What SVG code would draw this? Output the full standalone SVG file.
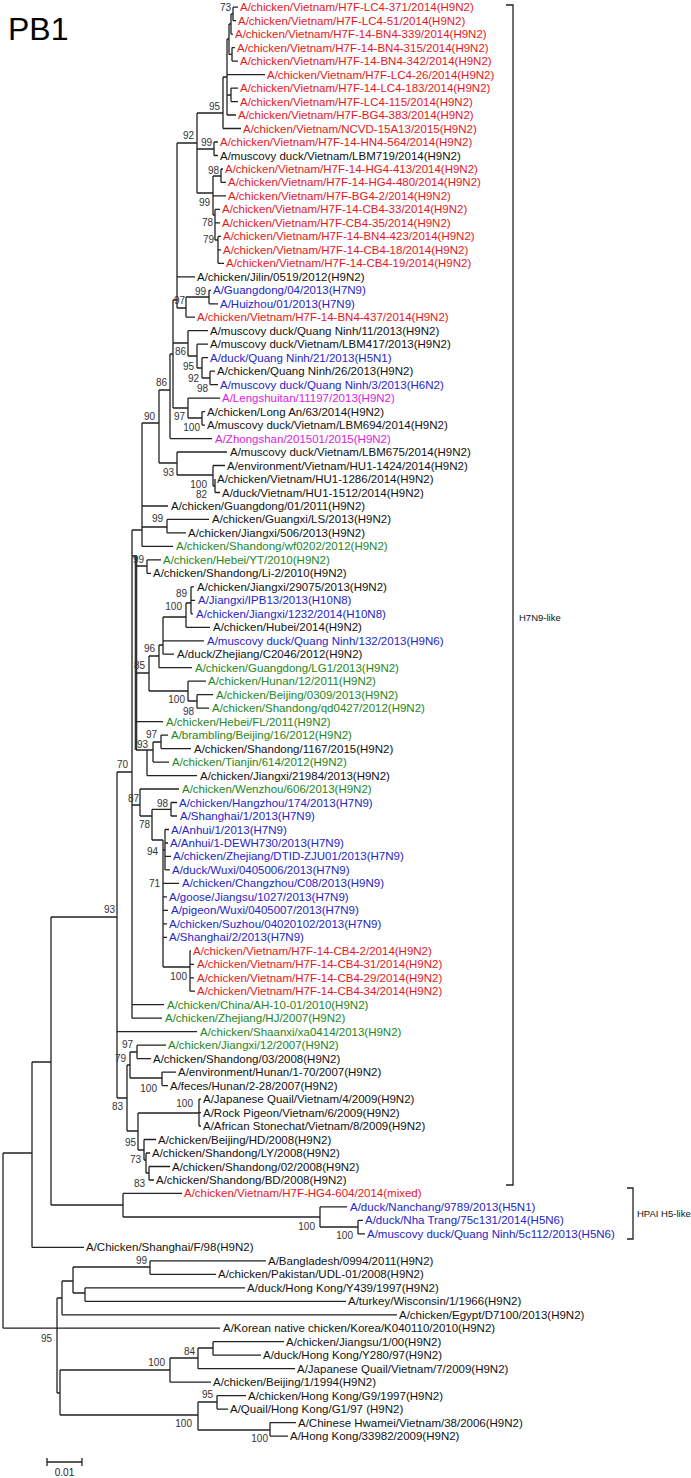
<svg xmlns="http://www.w3.org/2000/svg" width="691" height="1478" viewBox="0 0 691 1478">
<style>
.t{font-family:"Liberation Sans",Arial,sans-serif;font-size:11.5px}
.r{fill:#e8161c}.b{fill:#2424c8}.g{fill:#1e861e}.m{fill:#e020e0}.k{fill:#111}
.bs{font-family:"Liberation Sans",Arial,sans-serif;font-size:10px;fill:#333;text-anchor:end}
.ln{fill:none;stroke:#222;stroke-width:1.3}
.th{fill:none;stroke:#333;stroke-width:2.6}
.lab{font-family:"Liberation Sans",Arial,sans-serif;font-size:9.5px;fill:#111}
</style>
<rect width="691" height="1478" fill="#fff"/>
<text x="8" y="40" font-family="Liberation Sans,Arial,sans-serif" font-size="32" fill="#000">PB1</text>
<g id="connectors">
<path class="ln" d="M233 7.2V20.7M233 7.2H238M233 20.7H236M231 14V34.2M231 14H233M231 34.2H233M232 47.6V61.1M232 47.6H235M232 61.1H238M229 24V54.4M229 24H231M229 54.4H232M231 88.1V101.6M231 88.1H238M231 101.6H238M227 39V115M227 39H229M227 74.6H265M227 95H231M227 115H236M223 77V128.5M223 77H227M223 128.5H241M214 142V155.5M214 142H218M214 155.5H218M221 169V182.4M221 169H223M221 182.4H226M218 236.4V263.3M218 236.4H221M218 249.8H221M218 263.3H224M215 209.4V240M215 209.4H220M215 222.9H220M215 240H218M213 176V215M213 176H221M213 195.9H226M213 215H215M197 113V193M197 113H223M197 149H214M197 193H213"/>
<path class="ln" d="M177 143V308M177 143H197M177 276.8H195M177 308H186M209 290.3V303.8M209 290.3H211M209 303.8H218M186 297V317.2M186 297H209M186 317.2H195M210 371.2V384.6M210 371.2H215M210 384.6H218M202 357.7V378M202 357.7H208M202 378H210M197 344.2V368M197 344.2H208M197 368H202M188 330.7V356M188 330.7H208M188 356H197M202 411.6V425.1M202 411.6H205M202 425.1H205M188 398.1V418M188 398.1H220M188 418H202M173 300V408M173 300H177M173 343H188M173 408H188M170 354V438.6M170 354H173M170 438.6H212M159 390V463M159 390H170M159 463H177M177 452V475M177 452H227M177 475H213M213 465.5V486M213 465.5H225M213 486H215M215 479V492.5M215 492.5H220"/>
<path class="ln" d="M142 423V546.4M142 423H159M142 506H168M142 527H167M142 546.4H173M167 519.4V532.9M167 519.4H209M167 532.9H186M132 530V1018.2M132 530H142M132 556H136M132 805H140M132 1004.7H164M132 1018.2H162"/>
<path class="th" d="M136 556V750"/>
<path class="ln" d="M147 559.9V573.4M147 559.9H161M147 573.4H151M136 566H147M149 656V691M136 673H149M149 656H159M149 691H188M159 645V667.7M159 645H163M159 667.7H192M163 617V654.2M163 617H186M163 640.8H204M163 654.2H174M186 603V627.3M186 603H191M186 627.3H210M191 586.8V613.8M191 586.8H194M191 600.3H195M191 613.8H193M188 681.2V701M188 681.2H206M188 701H197M197 694.7V708.2M197 694.7H213M197 708.2H209M136 721.6H163M147 750V775.6M136 750H153M147 775.6H197M153 742V762.1M153 742H161M153 762.1H169M161 735.1V748.6M161 735.1H168M161 748.6H191"/>
<path class="ln" d="M140 789V816M140 789H179M140 816H152M152 809.3V840M152 809.3H171M152 840H163M171 802.5V816M171 802.5H177M171 816H177M163 840V967M163 850H165M163 883.4H179M163 896.9H167M163 910.4H168M163 923.8H167M163 937.3H167M163 967H190M165 829.5V869.9M165 829.5H169M165 843H168M165 856.4H171M165 869.9H170M190 950.8V991.2M190 950.8H191M190 964.3H194M190 977.8H194M190 991.2H195"/>
<path class="ln" d="M117 772V1098M117 772H132M117 1031.7H197M117 1098H127M127 1065V1131M127 1065H130M127 1131H138M130 1052V1078M130 1052H137M130 1078H162M137 1045.2V1058.6M137 1045.2H166M137 1058.6H151M162 1072.1V1085.6M162 1072.1H176M162 1085.6H168M138 1113V1150M138 1113H199M138 1150H144M199 1099.1V1126M199 1099.1H201M199 1112.6H201M199 1126H201M144 1139.5V1160M144 1139.5H156M144 1160H146M146 1153V1173M146 1153H150M146 1173H149M149 1166.5V1180M149 1166.5H170M149 1180H154"/>
<path class="ln" d="M51 917V1205M51 917H117M51 1205H123M123 1193.4V1217M123 1193.4H182M123 1217H320M320 1206.9V1227M320 1206.9H347M320 1227H358M358 1220.4V1233.9M358 1220.4H363M358 1233.9H365M32 1062V1247.4M32 1062H51M32 1247.4H84M3 1153V1328.2M3 1153H32M3 1328.2H220"/>
<path class="ln" d="M57 1298V1393M57 1298H62M57 1393H60M62 1281V1314.8M62 1281H73M62 1314.8H397M73 1267V1293M73 1267H150M73 1293H85M150 1260.8V1274.3M150 1260.8H266M150 1274.3H216M85 1287.8V1301.3M85 1287.8H245M85 1301.3H346M60 1370V1415M60 1370H170M60 1415H198M170 1358V1382.2M170 1358H198M170 1382.2H211M198 1348V1368.7M198 1348H213M198 1368.7H295M213 1341.7V1355.2M213 1341.7H284M213 1355.2H261M198 1402V1430M198 1402H217M198 1430H270M217 1395.6V1409.1M217 1395.6H246M217 1409.1H228M270 1422.6V1436.1M270 1422.6H296M270 1436.1H288"/>
</g>
<g id="bootstrap">
<text class="bs" x="231" y="11">73</text><text class="bs" x="220" y="110">95</text><text class="bs" x="194" y="139">92</text><text class="bs" x="212" y="146">99</text><text class="bs" x="219" y="174">98</text><text class="bs" x="210" y="206">99</text><text class="bs" x="213" y="226">78</text><text class="bs" x="214" y="243">79</text>
<text class="bs" x="206" y="295">99</text><text class="bs" x="185" y="304">97</text><text class="bs" x="186" y="355">86</text><text class="bs" x="194" y="370">95</text><text class="bs" x="199" y="382">92</text><text class="bs" x="208" y="392">98</text><text class="bs" x="167" y="386">86</text><text class="bs" x="185" y="420">97</text><text class="bs" x="200" y="431">100</text><text class="bs" x="155" y="420">90</text>
<text class="bs" x="174" y="476">93</text><text class="bs" x="207" y="488">100</text><text class="bs" x="207" y="498">82</text><text class="bs" x="163" y="522">99</text><text class="bs" x="144" y="563">99</text><text class="bs" x="187" y="597">89</text><text class="bs" x="182" y="610">100</text><text class="bs" x="155" y="652">96</text><text class="bs" x="145" y="669">85</text><text class="bs" x="185" y="703">100</text><text class="bs" x="194" y="715">98</text>
<text class="bs" x="157" y="738">97</text><text class="bs" x="148" y="748">93</text><text class="bs" x="128" y="768">70</text><text class="bs" x="139" y="802">87</text><text class="bs" x="150" y="828">78</text><text class="bs" x="168" y="807">98</text><text class="bs" x="158" y="855">94</text><text class="bs" x="160" y="887">71</text><text class="bs" x="187" y="980">100</text>
<text class="bs" x="115" y="913">93</text><text class="bs" x="133" y="1048">97</text><text class="bs" x="126" y="1062">79</text><text class="bs" x="157" y="1092">100</text><text class="bs" x="123" y="1110">83</text><text class="bs" x="193" y="1107">100</text><text class="bs" x="136" y="1146">95</text><text class="bs" x="141" y="1163">73</text><text class="bs" x="145" y="1187">83</text>
<text class="bs" x="315" y="1230">100</text><text class="bs" x="353" y="1239">100</text><text class="bs" x="147" y="1264">99</text><text class="bs" x="52" y="1342">95</text><text class="bs" x="195" y="1355">84</text><text class="bs" x="165" y="1366">100</text><text class="bs" x="213" y="1398">95</text><text class="bs" x="192" y="1427">100</text><text class="bs" x="268" y="1442">100</text>
</g>
<g id="leaves" class="t">
<g id="n0"><text class="r" x="240" y="11.2">A/chicken/Vietnam/H7F-LC4-371/2014(H9N2)</text></g>
<g id="n1"><text class="r" x="238" y="24.7">A/chicken/Vietnam/H7F-LC4-51/2014(H9N2)</text></g>
<g id="n2"><text class="r" x="235" y="38.2">A/chicken/Vietnam/H7F-14-BN4-339/2014(H9N2)</text></g>
<g id="n3"><text class="r" x="237" y="51.6">A/chicken/Vietnam/H7F-14-BN4-315/2014(H9N2)</text></g>
<g id="n4"><text class="r" x="240" y="65.1">A/chicken/Vietnam/H7F-14-BN4-342/2014(H9N2)</text></g>
<g id="n5"><text class="r" x="267" y="78.6">A/chicken/Vietnam/H7F-LC4-26/2014(H9N2)</text></g>
<g id="n6"><text class="r" x="240" y="92.1">A/chicken/Vietnam/H7F-14-LC4-183/2014(H9N2)</text></g>
<g id="n7"><text class="r" x="240" y="105.6">A/chicken/Vietnam/H7F-LC4-115/2014(H9N2)</text></g>
<g id="n8"><text class="r" x="238" y="119">A/chicken/Vietnam/H7F-BG4-383/2014(H9N2)</text></g>
<g id="n9"><text class="r" x="243" y="132.5">A/chicken/Vietnam/NCVD-15A13/2015(H9N2)</text></g>
<g id="n10"><text class="r" x="220" y="146">A/chicken/Vietnam/H7F-14-HN4-564/2014(H9N2)</text></g>
<g id="n11"><text class="k" x="220" y="159.5">A/muscovy duck/Vietnam/LBM719/2014(H9N2)</text></g>
<g id="n12"><text class="r" x="225" y="173">A/chicken/Vietnam/H7F-14-HG4-413/2014(H9N2)</text></g>
<g id="n13"><text class="r" x="228" y="186.4">A/chicken/Vietnam/H7F-14-HG4-480/2014(H9N2)</text></g>
<g id="n14"><text class="r" x="228" y="199.9">A/chicken/Vietnam/H7F-BG4-2/2014(H9N2)</text></g>
<g id="n15"><text class="r" x="222" y="213.4">A/chicken/Vietnam/H7F-14-CB4-33/2014(H9N2)</text></g>
<g id="n16"><text class="r" x="222" y="226.9">A/chicken/Vietnam/H7F-CB4-35/2014(H9N2)</text></g>
<g id="n17"><text class="r" x="223" y="240.4">A/chicken/Vietnam/H7F-14-BN4-423/2014(H9N2)</text></g>
<g id="n18"><text class="r" x="223" y="253.8">A/chicken/Vietnam/H7F-14-CB4-18/2014(H9N2)</text></g>
<g id="n19"><text class="r" x="226" y="267.3">A/chicken/Vietnam/H7F-14-CB4-19/2014(H9N2)</text></g>
<g id="n20"><text class="k" x="197" y="280.8">A/chicken/Jilin/0519/2012(H9N2)</text></g>
<g id="n21"><text class="b" x="213" y="294.3">A/Guangdong/04/2013(H7N9)</text></g>
<g id="n22"><text class="b" x="220" y="307.8">A/Huizhou/01/2013(H7N9)</text></g>
<g id="n23"><text class="r" x="197" y="321.2">A/chicken/Vietnam/H7F-14-BN4-437/2014(H9N2)</text></g>
<g id="n24"><text class="k" x="210" y="334.7">A/muscovy duck/Quang Ninh/11/2013(H9N2)</text></g>
<g id="n25"><text class="k" x="210" y="348.2">A/muscovy duck/Vietnam/LBM417/2013(H9N2)</text></g>
<g id="n26"><text class="b" x="210" y="361.7">A/duck/Quang Ninh/21/2013(H5N1)</text></g>
<g id="n27"><text class="k" x="217" y="375.2">A/chicken/Quang Ninh/26/2013(H9N2)</text></g>
<g id="n28"><text class="b" x="220" y="388.6">A/muscovy duck/Quang Ninh/3/2013(H6N2)</text></g>
<g id="n29"><text class="m" x="222" y="402.1">A/Lengshuitan/11197/2013(H9N2)</text></g>
<g id="n30"><text class="k" x="207" y="415.6">A/chicken/Long An/63/2014(H9N2)</text></g>
<g id="n31"><text class="k" x="207" y="429.1">A/muscovy duck/Vietnam/LBM694/2014(H9N2)</text></g>
<g id="n32"><text class="m" x="215" y="442.6">A/Zhongshan/201501/2015(H9N2)</text></g>
<g id="n33"><text class="k" x="230" y="456">A/muscovy duck/Vietnam/LBM675/2014(H9N2)</text></g>
<g id="n34"><text class="k" x="227" y="469.5">A/environment/Vietnam/HU1-1424/2014(H9N2)</text></g>
<g id="n35"><text class="k" x="217" y="483">A/chicken/Vietnam/HU1-1286/2014(H9N2)</text></g>
<g id="n36"><text class="k" x="222" y="496.5">A/duck/Vietnam/HU1-1512/2014(H9N2)</text></g>
<g id="n37"><text class="k" x="171" y="510">A/chicken/Guangdong/01/2011(H9N2)</text></g>
<g id="n38"><text class="k" x="212" y="523.4">A/chicken/Guangxi/LS/2013(H9N2)</text></g>
<g id="n39"><text class="k" x="188" y="536.9">A/chicken/Jiangxi/506/2013(H9N2)</text></g>
<g id="n40"><text class="g" x="176" y="550.4">A/chicken/Shandong/wf0202/2012(H9N2)</text></g>
<g id="n41"><text class="g" x="163" y="563.9">A/chicken/Hebei/YT/2010(H9N2)</text></g>
<g id="n42"><text class="k" x="153" y="577.4">A/chicken/Shandong/Li-2/2010(H9N2)</text></g>
<g id="n43"><text class="k" x="197" y="590.8">A/chicken/Jiangxi/29075/2013(H9N2)</text></g>
<g id="n44"><text class="b" x="198" y="604.3">A/Jiangxi/IPB13/2013(H10N8)</text></g>
<g id="n45"><text class="b" x="196" y="617.8">A/chicken/Jiangxi/1232/2014(H10N8)</text></g>
<g id="n46"><text class="k" x="213" y="631.3">A/chicken/Hubei/2014(H9N2)</text></g>
<g id="n47"><text class="b" x="207" y="644.8">A/muscovy duck/Quang Ninh/132/2013(H9N6)</text></g>
<g id="n48"><text class="k" x="177" y="658.2">A/duck/Zhejiang/C2046/2012(H9N2)</text></g>
<g id="n49"><text class="g" x="195" y="671.7">A/chicken/Guangdong/LG1/2013(H9N2)</text></g>
<g id="n50"><text class="g" x="208" y="685.2">A/chicken/Hunan/12/2011(H9N2)</text></g>
<g id="n51"><text class="g" x="216" y="698.7">A/chicken/Beijing/0309/2013(H9N2)</text></g>
<g id="n52"><text class="g" x="212" y="712.2">A/chicken/Shandong/qd0427/2012(H9N2)</text></g>
<g id="n53"><text class="g" x="166" y="725.6">A/chicken/Hebei/FL/2011(H9N2)</text></g>
<g id="n54"><text class="g" x="171" y="739.1">A/brambling/Beijing/16/2012(H9N2)</text></g>
<g id="n55"><text class="k" x="194" y="752.6">A/chicken/Shandong/1167/2015(H9N2)</text></g>
<g id="n56"><text class="g" x="172" y="766.1">A/chicken/Tianjin/614/2012(H9N2)</text></g>
<g id="n57"><text class="k" x="200" y="779.6">A/chicken/Jiangxi/21984/2013(H9N2)</text></g>
<g id="n58"><text class="g" x="182" y="793">A/chicken/Wenzhou/606/2013(H9N2)</text></g>
<g id="n59"><text class="b" x="179" y="806.5">A/chicken/Hangzhou/174/2013(H7N9)</text></g>
<g id="n60"><text class="b" x="180" y="820">A/Shanghai/1/2013(H7N9)</text></g>
<g id="n61"><text class="b" x="171" y="833.5">A/Anhui/1/2013(H7N9)</text></g>
<g id="n62"><text class="b" x="170" y="847">A/Anhui/1-DEWH730/2013(H7N9)</text></g>
<g id="n63"><text class="b" x="173" y="860.4">A/chicken/Zhejiang/DTID-ZJU01/2013(H7N9)</text></g>
<g id="n64"><text class="b" x="172" y="873.9">A/duck/Wuxi/0405006/2013(H7N9)</text></g>
<g id="n65"><text class="b" x="182" y="887.4">A/chicken/Changzhou/C08/2013(H9N9)</text></g>
<g id="n66"><text class="b" x="169" y="900.9">A/goose/Jiangsu/1027/2013(H7N9)</text></g>
<g id="n67"><text class="b" x="171" y="914.4">A/pigeon/Wuxi/0405007/2013(H7N9)</text></g>
<g id="n68"><text class="b" x="169" y="927.8">A/chicken/Suzhou/04020102/2013(H7N9)</text></g>
<g id="n69"><text class="b" x="169" y="941.3">A/Shanghai/2/2013(H7N9)</text></g>
<g id="n70"><text class="r" x="193" y="954.8">A/chicken/Vietnam/H7F-14-CB4-2/2014(H9N2)</text></g>
<g id="n71"><text class="r" x="197" y="968.3">A/chicken/Vietnam/H7F-14-CB4-31/2014(H9N2)</text></g>
<g id="n72"><text class="r" x="197" y="981.8">A/chicken/Vietnam/H7F-14-CB4-29/2014(H9N2)</text></g>
<g id="n73"><text class="r" x="197" y="995.2">A/chicken/Vietnam/H7F-14-CB4-34/2014(H9N2)</text></g>
<g id="n74"><text class="g" x="167" y="1008.7">A/chicken/China/AH-10-01/2010(H9N2)</text></g>
<g id="n75"><text class="g" x="165" y="1022.2">A/chicken/Zhejiang/HJ/2007(H9N2)</text></g>
<g id="n76"><text class="g" x="200" y="1035.7">A/chicken/Shaanxi/xa0414/2013(H9N2)</text></g>
<g id="n77"><text class="g" x="168" y="1049.2">A/chicken/Jiangxi/12/2007(H9N2)</text></g>
<g id="n78"><text class="k" x="153" y="1062.6">A/chicken/Shandong/03/2008(H9N2)</text></g>
<g id="n79"><text class="k" x="178" y="1076.1">A/environment/Hunan/1-70/2007(H9N2)</text></g>
<g id="n80"><text class="k" x="170" y="1089.6">A/feces/Hunan/2-28/2007(H9N2)</text></g>
<g id="n81"><text class="k" x="203" y="1103.1">A/Japanese Quail/Vietnam/4/2009(H9N2)</text></g>
<g id="n82"><text class="k" x="203" y="1116.6">A/Rock Pigeon/Vietnam/6/2009(H9N2)</text></g>
<g id="n83"><text class="k" x="203" y="1130">A/African Stonechat/Vietnam/8/2009(H9N2)</text></g>
<g id="n84"><text class="k" x="158" y="1143.5">A/chicken/Beijing/HD/2008(H9N2)</text></g>
<g id="n85"><text class="k" x="152" y="1157">A/chicken/Shandong/LY/2008(H9N2)</text></g>
<g id="n86"><text class="k" x="172" y="1170.5">A/chicken/Shandong/02/2008(H9N2)</text></g>
<g id="n87"><text class="k" x="156" y="1184">A/chicken/Shandong/BD/2008(H9N2)</text></g>
<g id="n88"><text class="r" x="184" y="1197.4">A/chicken/Vietnam/H7F-HG4-604/2014(mixed)</text></g>
<g id="n89"><text class="b" x="350" y="1210.9">A/duck/Nanchang/9789/2013(H5N1)</text></g>
<g id="n90"><text class="b" x="365" y="1224.4">A/duck/Nha Trang/75c131/2014(H5N6)</text></g>
<g id="n91"><text class="b" x="367" y="1237.9">A/muscovy duck/Quang Ninh/5c112/2013(H5N6)</text></g>
<g id="n92"><text class="k" x="86" y="1251.4">A/Chicken/Shanghai/F/98(H9N2)</text></g>
<g id="n93"><text class="k" x="268" y="1264.8">A/Bangladesh/0994/2011(H9N2)</text></g>
<g id="n94"><text class="k" x="218" y="1278.3">A/chicken/Pakistan/UDL-01/2008(H9N2)</text></g>
<g id="n95"><text class="k" x="247" y="1291.8">A/duck/Hong Kong/Y439/1997(H9N2)</text></g>
<g id="n96"><text class="k" x="348" y="1305.3">A/turkey/Wisconsin/1/1966(H9N2)</text></g>
<g id="n97"><text class="k" x="399" y="1318.8">A/chicken/Egypt/D7100/2013(H9N2)</text></g>
<g id="n98"><text class="k" x="223" y="1332.2">A/Korean native chicken/Korea/K040110/2010(H9N2)</text></g>
<g id="n99"><text class="k" x="286" y="1345.7">A/chicken/Jiangsu/1/00(H9N2)</text></g>
<g id="n100"><text class="k" x="263" y="1359.2">A/duck/Hong Kong/Y280/97(H9N2)</text></g>
<g id="n101"><text class="k" x="297" y="1372.7">A/Japanese Quail/Vietnam/7/2009(H9N2)</text></g>
<g id="n102"><text class="k" x="213" y="1386.2">A/chicken/Beijing/1/1994(H9N2)</text></g>
<g id="n103"><text class="k" x="248" y="1399.6">A/chicken/Hong Kong/G9/1997(H9N2)</text></g>
<g id="n104"><text class="k" x="230" y="1413.1">A/Quail/Hong Kong/G1/97 (H9N2)</text></g>
<g id="n105"><text class="k" x="298" y="1426.6">A/Chinese Hwamei/Vietnam/38/2006(H9N2)</text></g>
<g id="n106"><text class="k" x="290" y="1440.1">A/Hong Kong/33982/2009(H9N2)</text></g>
</g>
<g id="brackets">
<path class="ln" d="M506 5H513V1185H506"/>
<text class="lab" x="519" y="621">H7N9-like</text>
<path class="ln" d="M627 1188H633V1239H627"/>
<text class="lab" x="637" y="1217">HPAI H5-like</text>
</g>
<g id="scale">
<path class="ln" d="M47 1462H82M47 1458V1466M82 1458V1466"/>
<text x="64.5" y="1476" font-family="Liberation Sans,Arial,sans-serif" font-size="10" fill="#222" text-anchor="middle">0.01</text>
</g>
</svg>
